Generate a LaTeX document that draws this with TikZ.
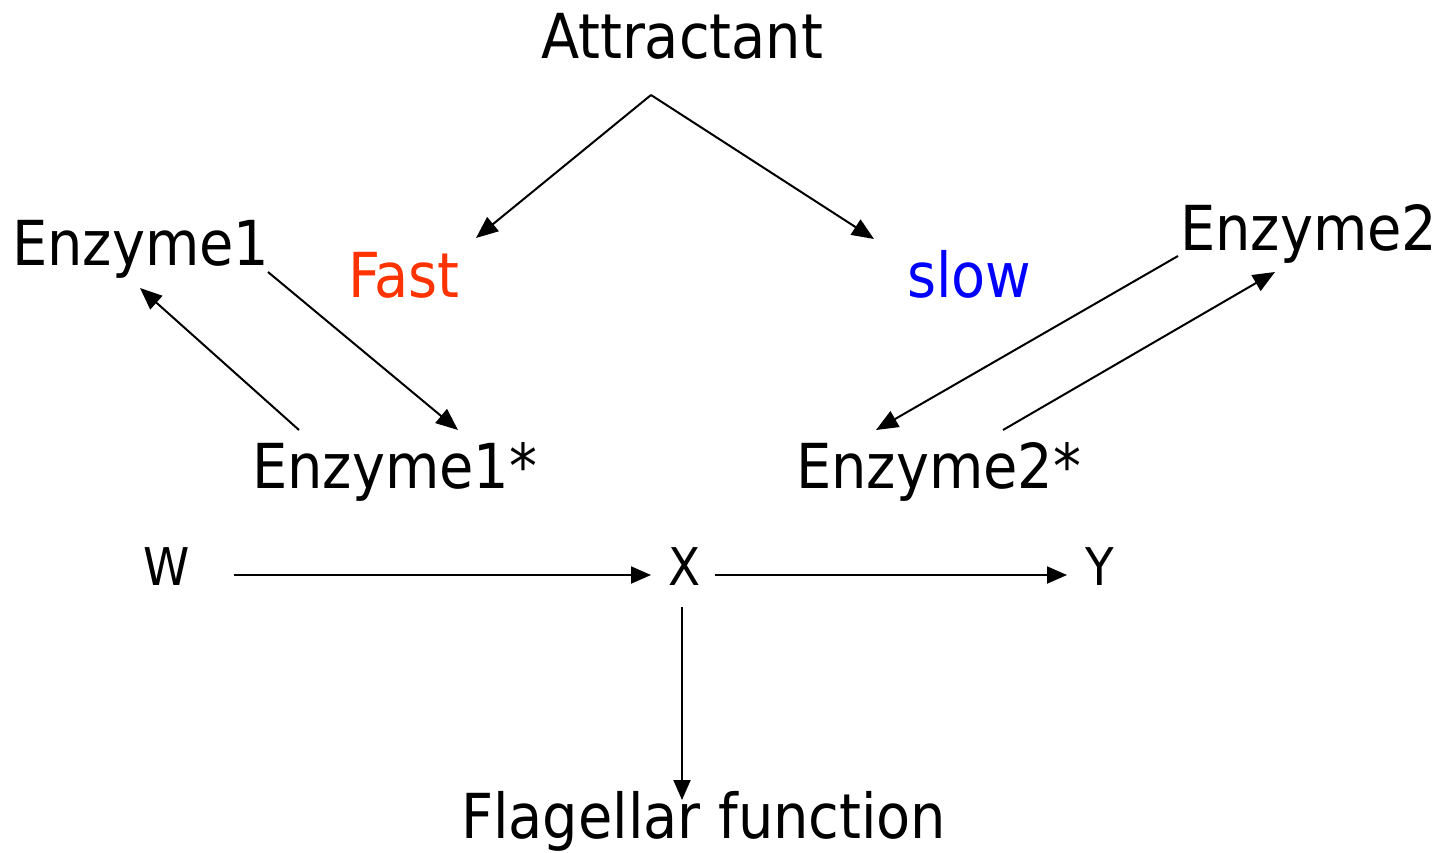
\documentclass[tikz,border=0pt]{standalone}
\usepackage{fontspec}
\setmainfont{DejaVu Sans Condensed}
\usetikzlibrary{arrows.meta}
\definecolor{fastred}{RGB}{255,51,0}
\tikzset{
  lbl/.style={inner sep=0pt, anchor=base west, font=\fontsize{62}{62}\selectfont},
  small/.style={inner sep=0pt, anchor=base west, font=\fontsize{52}{52}\selectfont},
  conn/.style={line width=2pt, -{Triangle[length=22pt,width=18pt]}},
  hconn/.style={line width=2pt, -{Triangle[length=20pt,width=17pt]}},
}
\begin{document}
\begin{tikzpicture}[x=1pt,y=-1pt]
\useasboundingbox (0,0) rectangle (1443,852);
\node[lbl] (att) at (541,58) {Attractant};
\node[lbl,text=fastred] (fast) at (348,297) {Fast};
\node[lbl,text=blue] (slow) at (907,297) {slow};
\node[lbl] (e1) at (12,265) {Enzyme1};
\node[lbl] (e2) at (1180,250) {Enzyme2};
\node[lbl] (e1s) at (252,488) {Enzyme1*};
\node[lbl] (e2s) at (796,488) {Enzyme2*};
\node[small] (w) at (143,585) {W};
\node[small] (x) at (668,585) {X};
\node[small] (y) at (1085,585) {Y};
\node[lbl] (fl) at (461,838) {Flagellar function};
% connector end points
\coordinate (apex) at (651,95);
\coordinate (fastT) at (476,238);
\coordinate (slowT) at (874,239);
\coordinate (e1a) at (268,272);
\coordinate (e1sT) at (458,430);
\coordinate (e1sa) at (299,430);
\coordinate (e1T) at (140,288);
\coordinate (e2a) at (1178,256);
\coordinate (e2sT) at (876,430);
\coordinate (e2sa) at (1003,430);
\coordinate (e2T) at (1275,272);
\coordinate (wa) at (234,575);
\coordinate (xT) at (651,575);
\coordinate (xa) at (715,575);
\coordinate (yT) at (1067,575);
\coordinate (xb) at (682,607);
\coordinate (flT) at (682,800);
\draw[conn] (apex) -- (fastT);
\draw[conn] (apex) -- (slowT);
\draw[conn] (e1a) -- (e1sT);
\draw[conn] (e1sa) -- (e1T);
\draw[conn] (e2a) -- (e2sT);
\draw[conn] (e2sa) -- (e2T);
\draw[hconn] (wa) -- (xT);
\draw[hconn] (xa) -- (yT);
\draw[hconn] (xb) -- (flT);
\end{tikzpicture}
\end{document}
